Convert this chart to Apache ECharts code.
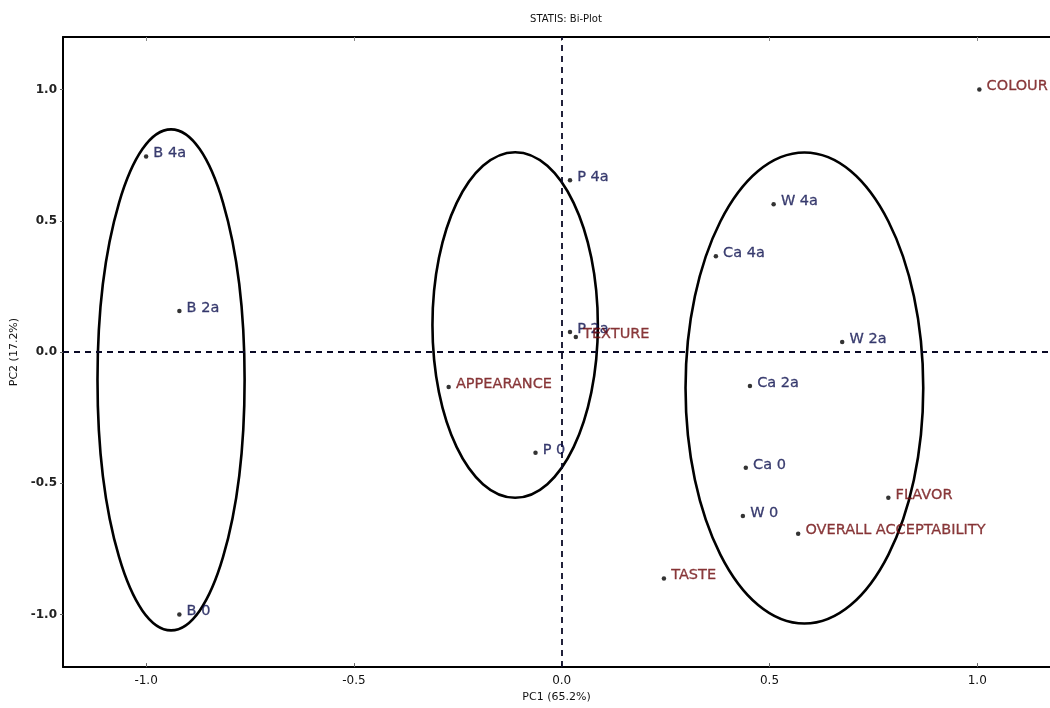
<!DOCTYPE html>
<html>
<head>
<meta charset="utf-8">
<script src="https://cdn.jsdelivr.net/npm/echarts@6/dist/echarts.min.js"></script>
<style>html,body{margin:0;padding:0;background:#fff}#c{width:1050px;height:708px}</style>
</head>
<body>
<div id="c"></div>
<script>
// Samples (blue labels)
const sampleNames = ['B 4a', 'B 2a', 'B 0', 'P 4a', 'P 2a', 'P 0', 'W 4a', 'Ca 4a', 'W 2a', 'Ca 2a', 'Ca 0', 'W 0'];
const sampleX = [-1.00, -0.92, -0.92, 0.02, 0.02, -0.063, 0.51, 0.371, 0.675, 0.453, 0.443, 0.436];
const sampleY = [0.745, 0.156, -1.00, 0.654, 0.076, -0.384, 0.563, 0.365, 0.038, -0.129, -0.441, -0.624];
// Attributes (red labels)
const attrNames = ['COLOUR', 'TEXTURE', 'APPEARANCE', 'FLAVOR', 'OVERALL ACCEPTABILITY', 'TASTE'];
const attrX = [1.005, 0.034, -0.272, 0.786, 0.569, 0.246];
const attrY = [1.00, 0.057, -0.133, -0.555, -0.692, -0.863];
// Group ellipses: centre and half-axes in data units
const ellipseCx = [-0.94, -0.112, 0.584];
const ellipseCy = [-0.106, 0.103, -0.137];
const ellipseRx = [0.177, 0.199, 0.286];
const ellipseRy = [0.954, 0.658, 0.897];
// Tick values
const tickValues = [-1.0, -0.5, 0.0, 0.5, 1.0];

const chart = echarts.init(document.getElementById('c'));
const fontFam = 'DejaVu Sans, sans-serif';

const sampleData = sampleNames.map((n, i) => ({ name: n, value: [sampleX[i], sampleY[i]] }));
const attrData = attrNames.map((n, i) => ({ name: n, value: [attrX[i], attrY[i]] }));
const ellipseData = ellipseCx.map((c, i) => [c, ellipseCy[i], ellipseRx[i], ellipseRy[i]]);

function lbl(color) {
  return {
    show: true, position: 'right', distance: 5, offset: [0, -3],
    formatter: p => p.name, color: color, fontFamily: fontFam, fontSize: 14.5,
    textBorderColor: color, textBorderWidth: 0.3
  };
}

chart.setOption({
  animation: false,
  backgroundColor: '#fff',
  title: {
    text: 'STATIS: Bi-Plot', left: 561, textAlign: 'center', top: 9,
    textStyle: { fontFamily: fontFam, fontSize: 10, fontWeight: 'normal', color: '#111' }
  },
  grid: { left: 63, top: 37, right: 0, bottom: 40, show: false },
  xAxis: [{
    type: 'value', min: -1.2, max: 1.175, position: 'bottom',
    name: 'PC1 (65.2%)', nameLocation: 'middle', nameGap: 22,
    nameTextStyle: { fontFamily: fontFam, fontSize: 11, color: '#111' },
    axisLine: { show: true, onZero: false, lineStyle: { color: '#000', width: 2 } },
    axisTick: { show: true, inside: true, length: 4, customValues: tickValues, lineStyle: { color: '#666' } },
    axisLabel: { customValues: tickValues, formatter: v => v.toFixed(1), fontFamily: fontFam, fontSize: 12, color: '#111', margin: 8 },
    splitLine: { show: false }
  }, {
    type: 'value', min: -1.2, max: 1.175, position: 'top',
    axisLine: { show: true, onZero: false, lineStyle: { color: '#000', width: 2 } },
    axisTick: { show: true, inside: true, length: 4, customValues: tickValues, lineStyle: { color: '#888' } },
    axisLabel: { show: false },
    splitLine: { show: false }
  }],
  yAxis: {
    type: 'value', min: -1.2, max: 1.2,
    name: 'PC2 (17.2%)', nameLocation: 'middle', nameGap: 40,
    nameTextStyle: { fontFamily: fontFam, fontSize: 11, color: '#111' },
    axisLine: { show: true, onZero: false, lineStyle: { color: '#000', width: 2 } },
    axisTick: { show: true, inside: false, length: 3, customValues: tickValues, lineStyle: { color: '#666' } },
    axisLabel: { customValues: tickValues, formatter: v => v.toFixed(1), fontFamily: fontFam, fontSize: 12, fontWeight: 'bold', color: '#222', margin: 6 },
    splitLine: { show: false }
  },
  series: [
    {
      type: 'custom', name: 'groups', silent: true, z: 3,
      encode: { x: 0, y: 1 },
      data: ellipseData,
      renderItem: function (params, api) {
        const c = api.coord([api.value(0), api.value(1)]);
        const s = api.size([api.value(2), api.value(3)]);
        return {
          type: 'ellipse',
          shape: { cx: c[0], cy: c[1], rx: s[0], ry: s[1] },
          style: { fill: 'none', stroke: '#000', lineWidth: 2.6 }
        };
      }
    },
    {
      type: 'scatter', name: 'samples', symbol: 'circle', symbolSize: 4.5, z: 5,
      itemStyle: { color: '#000' },
      label: lbl('#0d104f'),
      data: sampleData,
      markLine: {
        silent: true, symbol: 'none', animation: false,
        label: { show: false },
        lineStyle: { color: '#0a0a26', type: [6, 5], width: 1.8 },
        data: [{ xAxis: 0 }, { yAxis: 0 }]
      }
    },
    {
      type: 'scatter', name: 'attributes', symbol: 'circle', symbolSize: 4.5, z: 5,
      itemStyle: { color: '#000' },
      label: lbl('#6e0b0e'),
      data: attrData
    }
  ]
});
</script>
</body>
</html>
